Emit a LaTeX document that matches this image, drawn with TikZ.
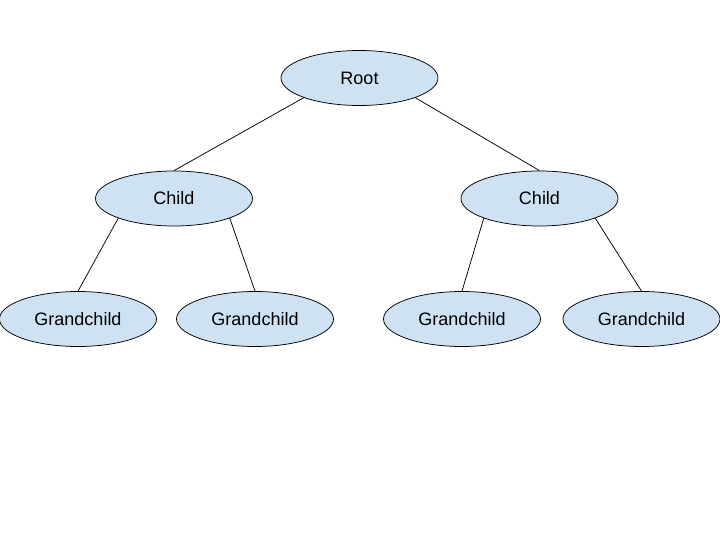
\documentclass[tikz,border=0pt]{standalone}
\usepackage{fontspec}
\setmainfont{Liberation Sans}
\usetikzlibrary{shapes.geometric}
\definecolor{nodeblue}{RGB}{207,226,243}

\tikzset{every picture/.style={line width=0.75pt}}
\tikzset{treenode/.style={ellipse,draw,fill=nodeblue,minimum width=157pt,minimum height=55pt,inner sep=0pt,font=\fontsize{18}{22}\selectfont}}

\begin{document}
\begin{tikzpicture}[x=1pt,y=1pt,yscale=-1,xscale=1]
\useasboundingbox (0,0) rectangle (720,540);

% Root
\node [treenode] (root) at (359.5,78) {Root};
% Children
\node [treenode] (childL) at (174,198.5) {Child};
\node [treenode] (childR) at (539.5,198.5) {Child};
% Grandchildren
\node [treenode] (gcLL) at (78,319) {Grandchild};
\node [treenode] (gcLR) at (255,319) {Grandchild};
\node [treenode] (gcRL) at (462,319) {Grandchild};
\node [treenode] (gcRR) at (641.5,319) {Grandchild};

% Edges
\draw (root.south west) -- (childL.north);
\draw (root.south east) -- (childR.north);
\draw (childL.south west) -- (gcLL.north);
\draw (childL.south east) -- (gcLR.north);
\draw (childR.south west) -- (gcRL.north);
\draw (childR.south east) -- (gcRR.north);

\end{tikzpicture}
\end{document}
